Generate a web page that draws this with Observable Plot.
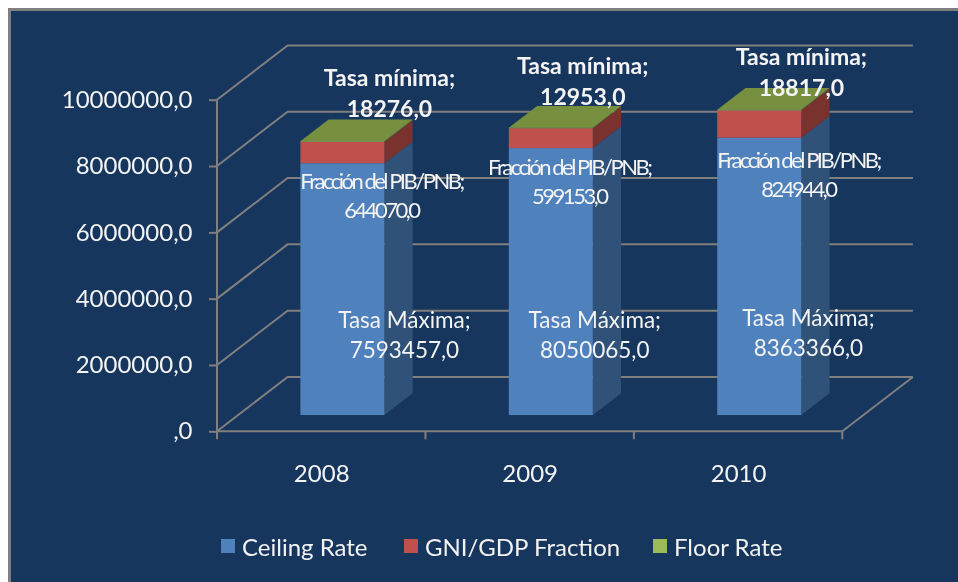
<!DOCTYPE html>
<html>
<head>
<meta charset="utf-8">
<script src="https://cdn.jsdelivr.net/npm/d3@7"></script>
<script src="https://cdn.jsdelivr.net/npm/@observablehq/plot@0.6"></script>
<style>
  html, body { margin: 0; padding: 0; background: #fff; }
  #page { position: relative; width: 958px; height: 582px; overflow: hidden; font-family: Lato, sans-serif; }
  #panel { position: absolute; left: 8px; top: 8px; right: 0; bottom: 0; background: #17365d; border-left: 3px solid #7f7f7f; border-top: 3px solid #7f7f7f; }
  #chart { position: absolute; left: 0; top: 0; filter: blur(0.4px); }
  #chart svg { display: block; background: transparent; }
  #legend { position: absolute; left: 0; top: 526px; width: 958px; height: 40px; color: #f2f2f2; font-size: 24px; filter: blur(0.4px); }
  #legend .item { position: absolute; top: 0; height: 40px; display: flex; align-items: center; white-space: nowrap; }
  #legend .swatch { width: 14px; height: 14px; margin-right: 7px; }
</style>
</head>
<body>
<div id="page">
  <div id="panel"></div>
  <div id="chart"></div>
  <div id="legend"></div>
</div>
<script>
// ---- data ----
const years = ["2008", "2009", "2010"];
const ceilingRate = [7593457, 8050065, 8363366];
const gniGdpFraction = [644070, 599153, 824944];
const floorRate = [18276, 12953, 18817];
const seriesNames = ["Ceiling Rate", "GNI/GDP Fraction", "Floor Rate"];
const labelNames = ["Tasa Máxima", "Fracción del PIB/PNB", "Tasa mínima"];
const yTicks = [0, 2000000, 4000000, 6000000, 8000000, 10000000];

// ---- styling ----
const frontColors = ["#4f81bd", "#c0504d", "#9bbb59"];
const sideColors = ["#305279", "#7a322f", "#5f7a34"];
const topColor = "#76903f";
const lineColor = "#7f7f7f";
const textColor = "#f4f4f4";
const font = "Lato, sans-serif";

const table = [ceilingRate, gniGdpFraction, floorRate].flatMap((vals, s) =>
  vals.map((value, i) => ({year: years[i], series: seriesNames[s], value}))
);

// oblique projection of the 3D chart box
const wallDx = 70.6, wallDy = -54.3;
const barInset = 62.2;
const barDx = wallDx * 0.3, barDy = wallDy * 0.3;
const depthDx = wallDx * 0.4, depthDy = wallDy * 0.4;

function ns(tag) { return document.createElementNS("http://www.w3.org/2000/svg", tag); }
function poly(g, pts, attrs) {
  const el = ns(attrs.fill && attrs.fill !== "none" ? "polygon" : "polyline");
  el.setAttribute("points", pts.map(p => p.join(",")).join(" "));
  for (const k in attrs) el.setAttribute(k, attrs[k]);
  g.appendChild(el);
}
const lineAttrs = {fill: "none", stroke: lineColor, "stroke-width": 2};

// walls, floor and axis lines
function boxMark(index, {x, y}) {
  const g = ns("g");
  const bw = x(years[1]) - x(years[0]);
  const x0 = x(years[0]), x1 = x(years[years.length - 1]) + bw;
  for (const t of yTicks) {
    const py = y(t);
    poly(g, [[x0, py], [x0 + wallDx, py + wallDy], [x1 + wallDx, py + wallDy]], lineAttrs);
  }
  poly(g, [[x1 + wallDx, y(0) + wallDy], [x1, y(0)]], lineAttrs);
  poly(g, [[x0, y(yTicks[yTicks.length - 1])], [x0, y(0)]], lineAttrs);
  poly(g, [[x0, y(0)], [x1, y(0)]], lineAttrs);
  years.concat([null]).forEach((d, i) => {
    const px = x0 + i * bw;
    poly(g, [[px, y(0)], [px, y(0) + 8]], lineAttrs);
  });
  return g;
}

// side and top faces of the stacked columns
function barFacesMark(index, {x, y}) {
  const g = ns("g");
  const bw = x(years[1]) - x(years[0]);
  years.forEach((d, i) => {
    const right = x(d) + bw - barInset + barDx;
    const left = x(d) + barInset + barDx;
    let base = 0;
    [ceilingRate, gniGdpFraction, floorRate].forEach((vals, s) => {
      const top = base + vals[i];
      const yb = y(base) + barDy, yt = y(top) + barDy;
      poly(g, [[right, yb], [right + depthDx, yb + depthDy], [right + depthDx, yt + depthDy], [right, yt]], {fill: sideColors[s]});
      base = top;
    });
    const yt = y(base) + barDy;
    poly(g, [[left, yt], [right, yt], [right + depthDx, yt + depthDy], [left + depthDx, yt + depthDy]], {fill: topColor});
  });
  return g;
}

const fmtTick = v => v === 0 ? ",0" : v + ",0";
const fmtVal = v => v + ",0";

// data label: text anchored on a value of the stack, nudged like the original
function dataLabel(i, s, anchor, dx, dy, extra = {}) {
  const vals = [ceilingRate, gniGdpFraction, floorRate][s];
  return Plot.text([0], {
    x: () => years[i],
    y: () => anchor,
    text: () => `${labelNames[s]};\n${fmtVal(vals[i])}`,
    fill: textColor,
    fontFamily: font,
    fontSize: 22.5,
    lineHeight: 1.33,
    lineAnchor: "middle",
    textAnchor: "middle",
    dx, dy,
    ...extra
  });
}
const total = i => ceilingRate[i] + gniGdpFraction[i] + floorRate[i];
const floorStyle = {fontWeight: 700, fontSize: 23};
const fracStyle = {fontSize: 22};

const plot = Plot.plot({
  width: 958,
  height: 520,
  marginLeft: 217,
  marginRight: 115.7,
  marginTop: 99.7,
  marginBottom: 88.7,
  style: {background: "transparent", overflow: "visible"},
  x: {type: "band", domain: years, padding: 0, round: false, label: null, axis: null},
  y: {domain: [0, 10000000], label: null, axis: null},
  color: {domain: seriesNames, range: frontColors},
  marks: [
    boxMark,
    barFacesMark,
    Plot.barY(table, {
      x: "year", y: "value", fill: "series",
      insetLeft: barInset, insetRight: barInset,
      dx: barDx, dy: barDy
    }),
    Plot.axisY({
      ticks: yTicks, tickFormat: fmtTick, tickSize: 8, tickPadding: 17,
      stroke: lineColor, strokeWidth: 2, color: textColor, fill: textColor,
      fontSize: 24, fontFamily: font, label: null, marginLeft: 217
    }),
    Plot.axisX({
      tickSize: 0, tickPadding: 33, fill: textColor, color: textColor,
      fontSize: 24, fontFamily: font, label: null
    }),
    dataLabel(0, 0, ceilingRate[0] / 2, 82.7, 27.6),
    dataLabel(1, 0, ceilingRate[1] / 2, 64.6, 35),
    dataLabel(2, 0, ceilingRate[2] / 2, 69.8, 38),
    dataLabel(0, 1, ceilingRate[0], 59.7, 14.5, fracStyle),
    dataLabel(1, 1, ceilingRate[1], 39.1, 15, fracStyle),
    dataLabel(2, 1, ceilingRate[2], 59.8, 19, fracStyle),
    dataLabel(0, 2, total(0), 67.7, -66.5, floorStyle),
    dataLabel(1, 2, total(1), 52.6, -64.6, floorStyle),
    dataLabel(2, 2, total(2), 62.8, -55.5, floorStyle)
  ]
});
// the original's "Fracción" labels are tightly squeezed
plot.querySelectorAll("text").forEach(t => {
  if (t.textContent.startsWith(labelNames[1])) t.style.letterSpacing = "-2.5px";
});
document.getElementById("chart").appendChild(plot);

// legend below the SVG
const legendLefts = [221, 404, 653];
const legend = d3.select("#legend");
seriesNames.forEach((name, i) => {
  const item = legend.append("div").attr("class", "item").style("left", legendLefts[i] + "px");
  item.append("div").attr("class", "swatch").style("background", frontColors[i]);
  item.append("span").text(name);
});
</script>
</body>
</html>
